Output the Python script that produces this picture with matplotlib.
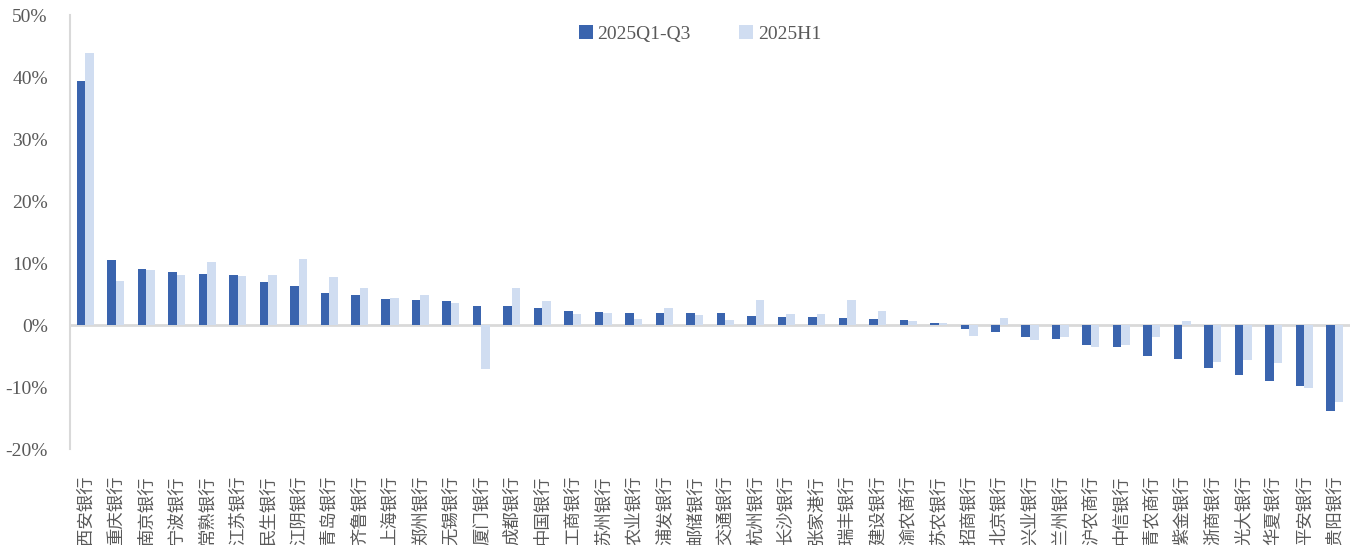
import matplotlib
matplotlib.use("Agg")
import matplotlib.pyplot as plt
import numpy as np

banks = ["西安银行", "重庆银行", "南京银行", "宁波银行", "常熟银行", "江苏银行", "民生银行",
         "江阴银行", "青岛银行", "齐鲁银行", "上海银行", "郑州银行", "无锡银行", "厦门银行",
         "成都银行", "中国银行", "工商银行", "苏州银行", "农业银行", "浦发银行", "邮储银行",
         "交通银行", "杭州银行", "长沙银行", "张家港行", "瑞丰银行", "建设银行", "渝农商行",
         "苏农银行", "招商银行", "北京银行", "兴业银行", "兰州银行", "沪农商行", "中信银行",
         "青农商行", "紫金银行", "浙商银行", "光大银行", "华夏银行", "平安银行", "贵阳银行"]

q1_q3 = [39.3, 10.5, 9.0, 8.5, 8.3, 8.0, 6.9, 6.3, 5.15, 4.8, 4.2, 4.0, 3.9, 3.1,
         3.1, 2.8, 2.2, 2.05, 2.0, 2.0, 1.9, 1.9, 1.45, 1.35, 1.25, 1.1, 0.9, 0.8,
         0.27, -0.65, -1.2, -1.9, -2.3, -3.3, -3.6, -5.0, -5.5, -7.0, -8.1, -9.0, -9.9, -13.9]
h1 = [43.9, 7.1, 8.8, 8.05, 10.2, 7.9, 8.0, 10.6, 7.7, 5.9, 4.3, 4.8, 3.5, -7.1,
      6.0, 3.8, 1.7, 1.9, 0.9, 2.7, 1.55, 0.85, 4.0, 1.7, 1.8, 4.0, 2.3, 0.6,
      0.3, -1.8, 1.2, -2.4, -2.0, -3.5, -3.2, -2.0, 0.6, -5.9, -5.7, -6.1, -10.2, -12.4]

dark = "#3A64AE"
light = "#D0DDF1"
grey_text = "#595959"
serif = ["Liberation Serif", "DejaVu Serif"]
cjk = ["Noto Sans CJK SC", "DejaVu Sans"]

fig = plt.figure(figsize=(13.59, 5.45), dpi=100)
ax = fig.add_axes([70 / 1359, 1 - 449 / 545, 1280 / 1359, 434 / 545])

x = np.arange(len(banks))
w = 0.28
ax.bar(x - w / 2, q1_q3, width=w, color=dark, label="2025Q1-Q3", zorder=2)
ax.bar(x + w / 2, h1, width=w, color=light, label="2025H1", zorder=2)

ax.axhline(0, color="#D9D9D9", lw=2, zorder=1)
ax.set_xlim(-0.5, len(banks) - 0.5)
ax.set_ylim(-20, 50)
ax.set_yticks(range(-20, 51, 10))
ax.set_yticklabels([f"{v}%" for v in range(-20, 51, 10)], family=serif,
                   fontsize=14, color=grey_text)
ax.tick_params(axis="y", length=0, pad=16)

ax.set_xticks(x)
ax.set_xticklabels(banks, rotation=90, family=cjk, fontsize=12.5,
                   color=grey_text, fontweight="light")
ax.tick_params(axis="x", length=0, pad=19)

for s in ["top", "right", "bottom"]:
    ax.spines[s].set_visible(False)
ax.spines["left"].set_color("#D9D9D9")
ax.spines["left"].set_linewidth(1.5)

fig.legend(loc="upper center", bbox_to_anchor=(700 / 1359, 1 - 8 / 545), ncol=2,
           frameon=False, prop={"family": serif, "size": 14},
           handlelength=0.7, handleheight=0.7, handletextpad=0.25,
           columnspacing=2.5, labelcolor=grey_text)

fig.savefig("out.png", dpi=100)
